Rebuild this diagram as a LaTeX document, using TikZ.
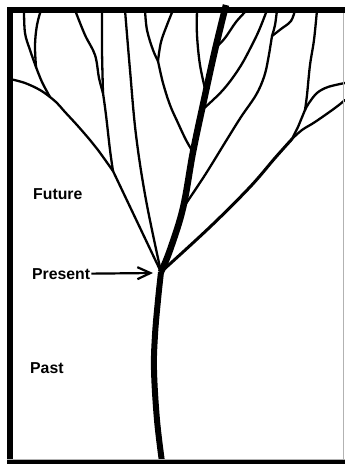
\documentclass[tikz,border=0pt]{standalone}
\usepackage{fontspec}
\setmainfont{Liberation Sans}
\usetikzlibrary{arrows.meta}
\begin{document}
\begin{tikzpicture}[x=1pt,y=-1pt,
  br/.style={line width=2.3pt, line cap=round, line join=round},
  thickbr/.style={line width=3pt, line cap=round, line join=round},
  trunk/.style={line width=6.5pt, line cap=butt, line join=round},
  lowtrunk/.style={line width=6pt, line cap=butt, line join=round},
  lbl/.style={font=\fontsize{15.8}{18}\selectfont\bfseries, anchor=base west, inner sep=0pt},
  pointer/.style={line width=2.2pt, -{Straight Barb[length=13pt,width=12pt,line width=2.2pt]}},
  sm/.style={smooth, tension=0.6}]
\useasboundingbox (0,0) rectangle (345,464);
\fill[white] (0,0) rectangle (345,464);
% coordinates
\coordinate (P) at (161,272);
\coordinate (l1a) at (24,10);
\coordinate (l1b) at (41,10);
\coordinate (l2a) at (75,10);
\coordinate (l2b) at (102,10);
\coordinate (l3) at (125,10);
\coordinate (m1a) at (145,10);
\coordinate (m1b) at (173,10);
\coordinate (m2) at (197,10);
\coordinate (ttop) at (226,5);
\coordinate (r0) at (247,10);
\coordinate (r1) at (267,10);
\coordinate (r2a) at (277,10);
\coordinate (r2b) at (295,10);
\coordinate (r3) at (317,10);
\coordinate (wl) at (10,79);
\coordinate (w1) at (345,83);
\coordinate (w2) at (345,100);
\coordinate (tbot) at (162,462);
\coordinate (ja) at (36,67);
\coordinate (j7) at (50,97);
\coordinate (j2) at (103,93);
\coordinate (j1) at (113,171);
\coordinate (j3) at (158,61);
\coordinate (j4) at (272,36);
\coordinate (j5) at (305,110);
\coordinate (j6) at (292,139);
\coordinate (t0) at (215.5,48);
\coordinate (tm2) at (205.8,92);
\coordinate (tr1) at (202,110);
\coordinate (tj3) at (193,152);
\coordinate (tr2) at (183,208);
% branches
\draw[br] plot[sm] coordinates {(l1a) (25,33) (30,50) (ja)};
\draw[br] plot[sm] coordinates {(l1b) (37,25) (35,45) (ja)};
\draw[br] plot[sm] coordinates {(ja) (42,82) (j7)};
\draw[br] plot[sm] coordinates {(wl) (25,83) (40,90) (j7)};
\draw[br] plot[sm] coordinates {(j7) (57,103) (65,112) (77,125) (90,140) (98,150) (j1)};
\draw[br] plot[sm] coordinates {(l2a) (85,35) (95,55) (99,78) (j2)};
\draw[br] plot[sm] coordinates {(l2b) (102,50) (j2)};
\draw[br] plot[sm] coordinates {(j2) (106,115) (110,150) (j1)};
\draw[br] (j1) -- (P);
\draw[br] plot[sm] coordinates {(l3) (130,70) (136,135) (146,200) (P)};
\draw[br] plot[sm] coordinates {(m1a) (147,30) (153,50) (j3)};
\draw[br] plot[sm] coordinates {(m1b) (167,25) (161,42) (j3)};
\draw[br] plot[sm] coordinates {(j3) (163,83) (170,105) (178,123) (186,140) (tj3)};
\draw[br] plot[sm] coordinates {(m2) (197,35) (200,65) (tm2)};
\draw[br] plot[sm] coordinates {(r0) (236,22) (225,38) (t0)};
\draw[br] plot[sm] coordinates {(r1) (260,28) (253,43) (240,67) (223,90) (tr1)};
\draw[br] plot[sm] coordinates {(r2a) (275,25) (j4)};
\draw[br] plot[sm] coordinates {(r2b) (291,21) (281,29) (j4)};
\draw[br] plot[sm] coordinates {(j4) (268,60) (264,77) (256,95) (241,117) (226,141) (205,175) (tr2)};
\draw[br] plot[sm] coordinates {(r3) (314,40) (310,65) (307,95) (j5)};
\draw[br] plot[sm] coordinates {(w1) (328,87) (317,93) (309,103) (j5)};
\draw[br] (j5) -- (298,127) -- (j6);
\draw[br] plot[sm] coordinates {(w2) (335,108) (315,122) (302,130) (j6)};
\draw[thickbr] plot[sm] coordinates {(j6) (275,158) (250,187) (210,227) (P)};
% trunk
\draw[trunk] plot[sm] coordinates {(P) (170,250) (tr2) (tj3) (204,100) (215,50) (ttop)};
\draw[lowtrunk] plot[sm] coordinates {(P) (158,300) (155,335) (154,370) (157,420) (tbot)};
% frame
\draw[line width=6pt, line join=miter] (9.5,464) -- (9.5,10) -- (345,10);
\fill (6.5,460) rectangle (345,464);
\draw[gray!60, line width=0.8pt] (6.5,459.6) -- (345,459.6);
\draw[gray!60, line width=1pt] (343.8,13) -- (343.8,459.6);
% labels
\node[lbl] (future) at (33,199) {Future};
\node[lbl] (present) at (32,279) {Present};
\node[lbl] (past) at (30,373) {Past};
\coordinate (ptip) at (153,273);
\draw[pointer] (present.east) ++(1,0) -- (ptip);
\end{tikzpicture}
\end{document}
